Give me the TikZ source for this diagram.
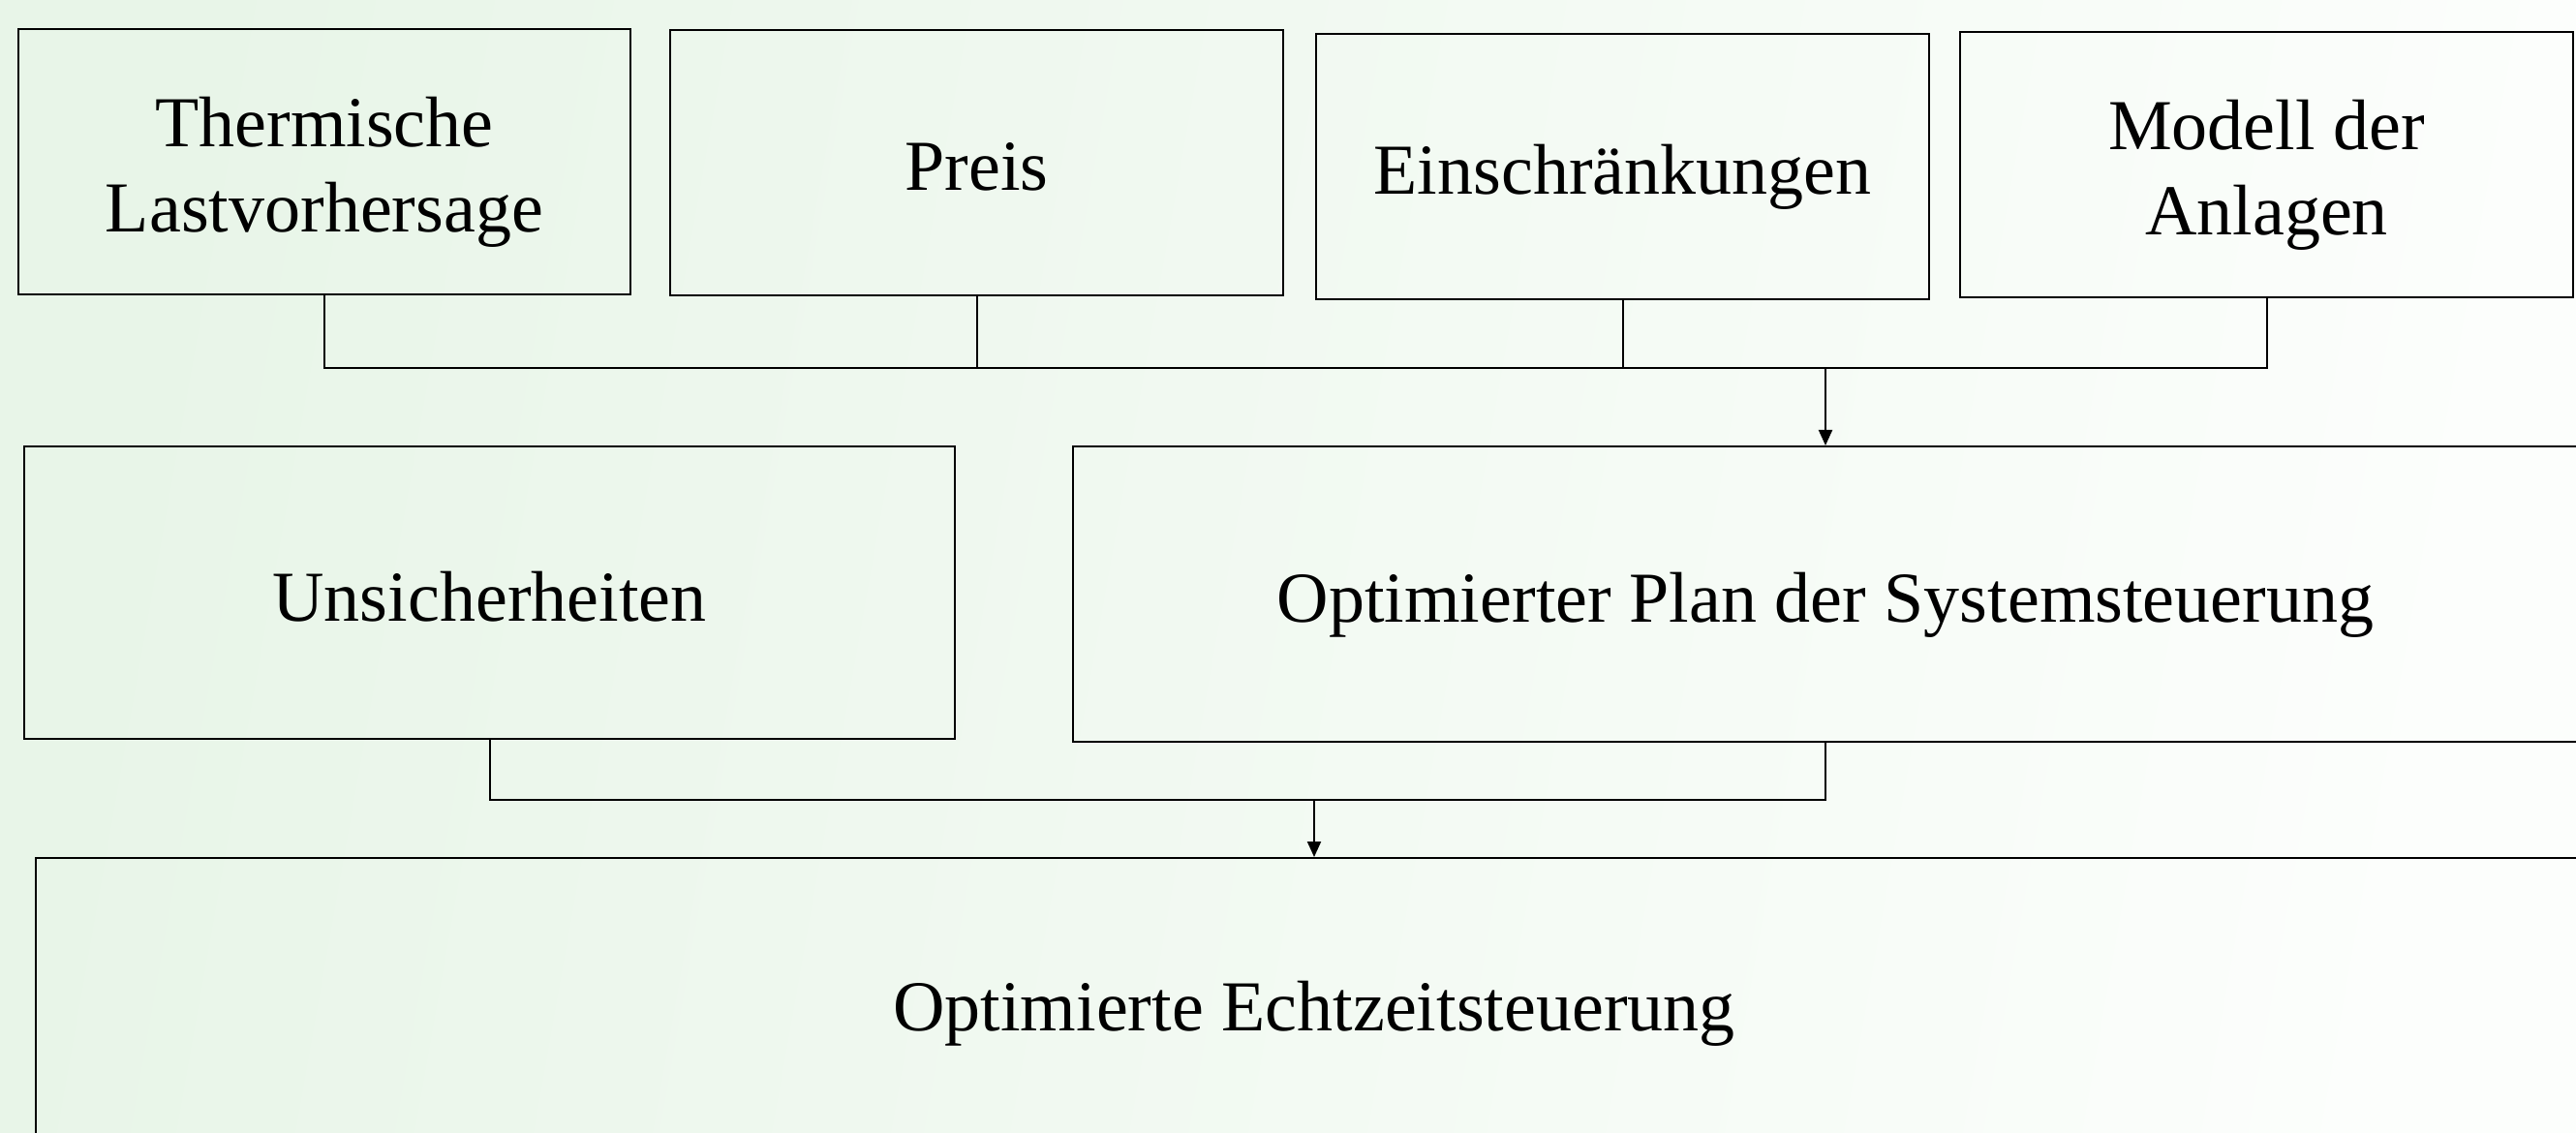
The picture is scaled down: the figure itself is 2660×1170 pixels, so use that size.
\documentclass[tikz,border=0pt]{standalone}
\usepackage{fontspec}
\setmainfont{Liberation Serif}
\usetikzlibrary{arrows.meta}
\definecolor{bgL}{RGB}{232,245,232}
\definecolor{bgR}{RGB}{252,254,252}
\tikzset{
  box/.style={draw=black, line width=1pt, inner sep=0pt, align=center,
    font=\fontsize{37}{44}\selectfont},
  oneline/.style={text height=29pt, text depth=0pt},
  twoline/.style={text height=73pt, text depth=0pt},
  conn/.style={draw=black, line width=1pt},
  arr/.style={conn, -{Triangle[length=8pt,width=7pt]}}
}
\begin{document}
\begin{tikzpicture}[x=0.5pt,y=-0.5pt]
\useasboundingbox (0,0) rectangle (2660,1170);
\clip (0,0) rectangle (2660,1170);
\shade[left color=bgL, right color=bgR, shading angle=80] (0,0) rectangle (2660,1170);
\node[box, twoline, minimum width=316pt, minimum height=137pt] (therm) at (335,167) {Thermische\\Lastvorhersage};
\node[box, oneline, minimum width=316.5pt, minimum height=137pt] (preis) at (1008.5,168) {Preis};
\node[box, oneline, minimum width=316.5pt, minimum height=137pt] (einsch) at (1675.5,172) {Einschränkungen};
\node[box, twoline, minimum width=316.5pt, minimum height=137pt] (modell) at (2340.5,170) {Modell der\\Anlagen};
\node[box, oneline, minimum width=480.5pt, minimum height=151pt] (unsich) at (505.5,612) {Unsicherheiten};
\node[box, oneline, minimum width=777pt, minimum height=152.5pt] (plan) at (1885,613.5) {Optimierter Plan der Systemsteuerung};
\node[box, oneline, minimum width=1320pt, minimum height=149pt] (echt) at (1357,1035) {Optimierte Echtzeitsteuerung};
\coordinate (j1) at (1885,380);
\coordinate (j2) at (1357,826);
\draw[conn] (therm.south) |- (j1);
\draw[conn] (preis.south) |- (j1);
\draw[conn] (einsch.south) |- (j1);
\draw[conn] (modell.south) |- (j1);
\draw[arr] (j1) -- (plan.north);
\draw[conn] (unsich.south) |- (j2);
\draw[conn] (plan.south) |- (j2);
\draw[arr] (j2) -- (echt.north);
\end{tikzpicture}
\end{document}
